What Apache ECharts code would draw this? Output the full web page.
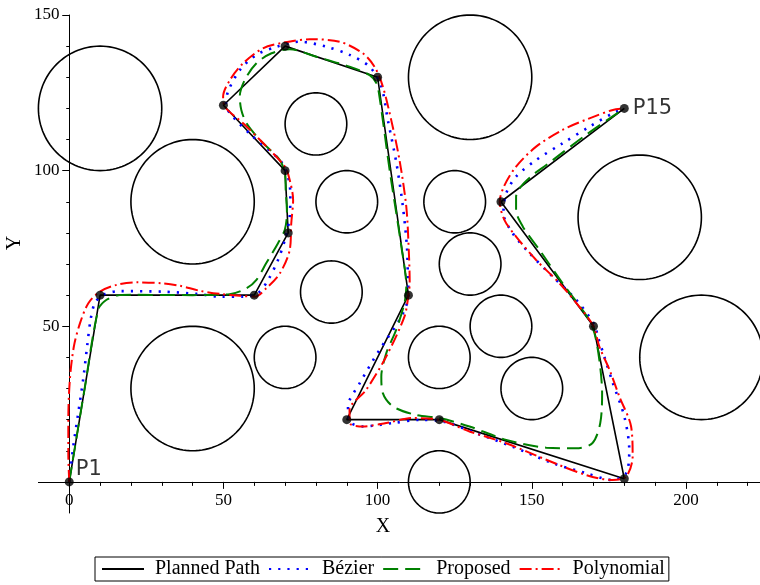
<!DOCTYPE html>
<html>
<head>
<meta charset="utf-8">
<script src="https://cdn.jsdelivr.net/npm/echarts@6/dist/echarts.min.js"></script>
<style>
  html, body { margin: 0; padding: 0; background: #fff; }
  #chart { width: 760px; height: 585px; }
</style>
</head>
<body>
<div id="chart"></div>
<script>
// Waypoints of the planned path, P1 ... P15
const waypoints = [
  [0, 0], [10, 60], [60, 60], [71, 80], [70, 100], [50, 121], [70, 140], [100, 130],
  [110, 60], [90, 20], [120, 20], [180, 1], [170, 50], [140, 90], [180, 120]
];

// Circular obstacles: [centre x, centre y, radius]
const obstacles = [
  [10, 120, 20], [40, 90, 20], [40, 30, 20], [70, 40, 10], [80, 115, 10], [90, 90, 10],
  [85, 61, 10], [130, 130, 20], [125, 90, 10], [130, 70, 10], [140, 50, 10], [120, 40, 10],
  [150, 30, 10], [120, 0, 10], [185, 85, 20], [205, 40, 20]
];

// Smoothed trajectories
const bezierPath = [
  [0, 0], [1.3, 11.3], [2.9, 22], [4.5, 32.8], [5.8, 43.5], [6.9, 52], [8.3, 57.4], [11, 60.1],
  [16.4, 61.3], [30.5, 61.1], [41.3, 60.4], [49.5, 59.5], [56.4, 59.5], [61.2, 60.6], [64.5, 64.9],
  [67.7, 71.3], [69.9, 77.7], [71.5, 85.2], [71.7, 92.7], [70.6, 99.2], [68.3, 103.4], [59.6, 110.9],
  [53.1, 117.3], [50.8, 121.1], [51.5, 125.4], [55.3, 132.3], [60.7, 137.2], [67.2, 139.8],
  [74.7, 141.4], [83.4, 139.8], [90.9, 137.2], [97.4, 133.4], [101.2, 127], [103.3, 116.3],
  [106.1, 102.4], [108.2, 88.4], [109.5, 75.6], [109.8, 67], [110, 60], [107.7, 53.1],
  [100.6, 42.4], [94.2, 31.7], [90.4, 24.2], [90.9, 19.4], [95.2, 17.8], [105, 18.9],
  [113.6, 19.9], [121.2, 19.4], [132, 15.6], [143.8, 11.3], [156.8, 6], [167.6, 2.8],
  [176.2, 0.6], [180.6, 2.8], [181.6, 10.3], [180, 21], [176.3, 31.7], [173.5, 40.3],
  [171.4, 46.7], [170.3, 50.5], [164.4, 58.5], [156.8, 65.9], [149.2, 73.5], [143.8, 79.9],
  [140.8, 86.3], [141.7, 92.7], [144.9, 98.1], [151.4, 103.4], [160, 108.8], [168.7, 114.1],
  [176.2, 118.4], [180, 120]
];

const proposedPath = [
  [0, 0], [5, 30], [9.4, 55.3], [12.1, 58.5], [16.4, 60], [20, 60.1], [40, 60], [52, 60.3],
  [57.5, 62.2], [60.7, 64.9], [63.9, 70.3], [67.7, 76.7], [69.9, 81], [70.6, 86.3], [70.2, 93.8],
  [69.9, 99.2], [68.3, 103.4], [61.8, 109.9], [57.5, 115.2], [55.8, 119.5], [55.3, 123.8],
  [56.9, 129.1], [60.7, 134.5], [65.6, 137.7], [71.5, 139], [80.1, 136.6], [90.9, 133.4],
  [97.4, 130.7], [99.6, 128.1], [100.6, 123.8], [103.9, 100.2], [107.7, 75.6], [109.3, 62.7],
  [108.7, 57.4], [106, 48.8], [102.8, 41.3], [101.2, 33.8], [101.7, 28.5], [105, 24.2],
  [112.5, 21.5], [120.1, 20.5], [129.8, 17.8], [141.7, 13.5], [154.7, 11], [164.4, 10.8],
  [169.7, 12.5], [172.2, 18.9], [172.8, 28.5], [171.9, 39.2], [170.3, 47.8], [168, 53],
  [160, 63.8], [152.5, 74.5], [147.1, 82], [144.9, 87.4], [144.9, 91.6], [146.5, 94.9],
  [150.3, 98.6], [154.7, 101.8], [167.6, 111.5], [180, 120]
];

const polynomialPath = [
  [0, 0], [-0.3, 9.2], [-0.3, 19.9], [0.2, 32.8], [1.5, 43.5], [3.5, 51], [6.2, 57.4], [9.9, 61.1],
  [15.4, 63.3], [22, 64.1], [30, 63.8], [35.9, 63], [42.3, 61.4], [48.8, 60.4], [55.3, 59.8],
  [60.2, 59.5], [63.9, 62.2], [68.3, 67], [71.5, 74.5], [72, 83.1], [72.6, 90.6], [71.5, 97],
  [69.9, 101.3], [61.8, 109.9], [56.4, 115.2], [50.4, 120.6], [49.9, 123.8], [52.1, 129.1],
  [56.4, 134.5], [62.8, 139.3], [69.3, 141.1], [78, 142.2], [87.7, 141.4], [95.2, 137.7],
  [99, 133.4], [101.7, 127], [104.4, 116.3], [107.1, 103.4], [109.3, 88.4], [110.1, 74.5],
  [110.4, 63.9], [110, 60], [108.7, 53.1], [102.8, 40.3], [96.3, 29.6], [90.9, 23.1],
  [90.9, 18.9], [95.2, 17.8], [102.8, 18.9], [111.4, 20.5], [120.1, 19.9], [129.8, 16.2],
  [141.7, 12.4], [154.7, 7.1], [167.6, 2.2], [176.2, 0.6], [180.6, 1.7], [182.7, 8.1],
  [182.2, 17.8], [178.4, 27.4], [175.2, 36], [171.9, 43.5], [170, 50], [165.4, 56.3],
  [159, 63.8], [151.4, 71.3], [144.9, 78.8], [141.1, 84.2], [139.6, 90], [141, 95],
  [144.9, 101.3], [151.4, 107.7], [160, 113.1], [168.7, 116.8], [176.3, 119.5], [180, 120]
];

// Axis ticks
const xMajorTicks = [0, 50, 100, 150, 200];
const xMinorTicks = [10, 20, 30, 40, 60, 70, 80, 90, 110, 120, 130, 140, 160, 170, 180, 190, 210, 220];
const yMajorTicks = [50, 100, 150];
const yMinorTicks = [10, 20, 30, 40, 60, 70, 80, 90, 110, 120, 130, 140];

const legendNames = ['Planned Path', 'Bézier', 'Proposed', 'Polynomial'];
const endLabels = ['P1', 'P15'];

const SERIF = '"Liberation Serif", "Times New Roman", serif';
const SANS = '"DejaVu Sans", sans-serif';

const chart = echarts.init(document.getElementById('chart'), null, { renderer: 'canvas' });

const tickLabel = { color: '#000', fontFamily: SERIF, fontSize: 17 };

// Each dimension gets two overlapping axes: short minor ticks with labels, long major ticks.
// The labels are measured from the grid edge, so the margin pulls them back to the zero line.
function axisPair(dimMin, dimMax, minor, major, minorLen, majorLen, position, labelMargin) {
  return [
    {
      type: 'value', min: dimMin, max: dimMax, position,
      axisLine: { show: true, onZero: true, onZeroAxisIndex: 0, lineStyle: { color: '#000', width: 1 } },
      axisTick: { show: true, customValues: minor, length: minorLen, lineStyle: { color: '#000', width: 1 } },
      axisLabel: Object.assign({ customValues: major, margin: labelMargin }, tickLabel),
      splitLine: { show: false }
    },
    {
      type: 'value', min: dimMin, max: dimMax, position,
      axisLine: { show: false, onZero: true, onZeroAxisIndex: 0 },
      axisTick: { show: true, customValues: major, length: majorLen, lineStyle: { color: '#000', width: 1 } },
      axisLabel: { show: false },
      splitLine: { show: false }
    }
  ];
}

const waypointData = waypoints.map((p, i) => {
  const item = { value: p };
  if (i === 0) {
    item.label = { show: true, formatter: endLabels[0], position: 'right', distance: 2, offset: [0, -12] };
  } else if (i === waypoints.length - 1) {
    item.label = { show: true, formatter: endLabels[1], position: 'right', distance: 4 };
  }
  return item;
});

const option = {
  animation: false,
  backgroundColor: '#fff',
  grid: { left: 38.4, top: 15, width: 722.4, height: 498, containLabel: false },
  xAxis: axisPair(-10, 224, xMinorTicks, xMajorTicks, 4, 7, 'bottom', -21),
  yAxis: axisPair(-10, 150, yMinorTicks, yMajorTicks, 3, 7, 'left', -21),
  legend: {
    data: legendNames,
    left: 95, top: 557,
    itemWidth: 42, itemHeight: 14, itemGap: 8,
    padding: [2, 4, 2, 6],
    borderColor: '#000', borderWidth: 1, borderRadius: 0,
    backgroundColor: '#fff',
    selectedMode: false,
    itemStyle: { opacity: 0 },
    textStyle: { fontFamily: SERIF, fontSize: 20, color: '#000', padding: [0, 0, 0, 6] }
  },
  graphic: [
    { type: 'text', x: 383, y: 527, style: { text: 'X', font: '20px ' + SERIF, fill: '#000', align: 'center', verticalAlign: 'middle' } },
    { type: 'text', x: 15, y: 243, rotation: Math.PI / 2, style: { text: 'Y', font: '20px ' + SERIF, fill: '#000', align: 'center', verticalAlign: 'middle' } }
  ],
  series: [
    {
      name: 'Obstacles', type: 'custom', coordinateSystem: 'cartesian2d', silent: true,
      data: obstacles, z: 1,
      renderItem(params, api) {
        const cx = api.value(0), cy = api.value(1), r = api.value(2);
        const pts = [];
        const n = 120;
        for (let k = 0; k < n; k++) {
          const t = (k / n) * Math.PI * 2;
          pts.push(api.coord([cx + r * Math.cos(t), cy + r * Math.sin(t)]));
        }
        return { type: 'polygon', shape: { points: pts }, style: { fill: 'none', stroke: '#000', lineWidth: 1.6 } };
      }
    },
    {
      name: 'Planned Path', type: 'line', data: waypoints, symbol: 'none', z: 3,
      lineStyle: { color: '#000', width: 1.6 }, itemStyle: { color: '#000' }
    },
    {
      name: 'Bézier', type: 'line', data: bezierPath, smooth: 0.3, symbol: 'none', z: 4,
      lineStyle: { color: '#0000ff', width: 2.6, type: [2.2, 7], cap: 'butt' }, itemStyle: { color: '#0000ff' }
    },
    {
      name: 'Proposed', type: 'line', data: proposedPath, smooth: 0.3, symbol: 'none', z: 5,
      lineStyle: { color: '#008000', width: 2, type: [15, 7] }, itemStyle: { color: '#008000' }
    },
    {
      name: 'Polynomial', type: 'line', data: polynomialPath, smooth: 0.3, symbol: 'none', z: 6,
      lineStyle: { color: '#ff0000', width: 2, type: [12, 4, 2, 4] }, itemStyle: { color: '#ff0000' }
    },
    {
      name: 'Waypoints', type: 'scatter', data: waypointData, symbol: 'circle', symbolSize: 9, z: 10,
      itemStyle: { color: '#000' },
      label: { color: '#000', fontFamily: SANS, fontSize: 21 }
    }
  ]
};

chart.setOption(option);
</script>
</body>
</html>
